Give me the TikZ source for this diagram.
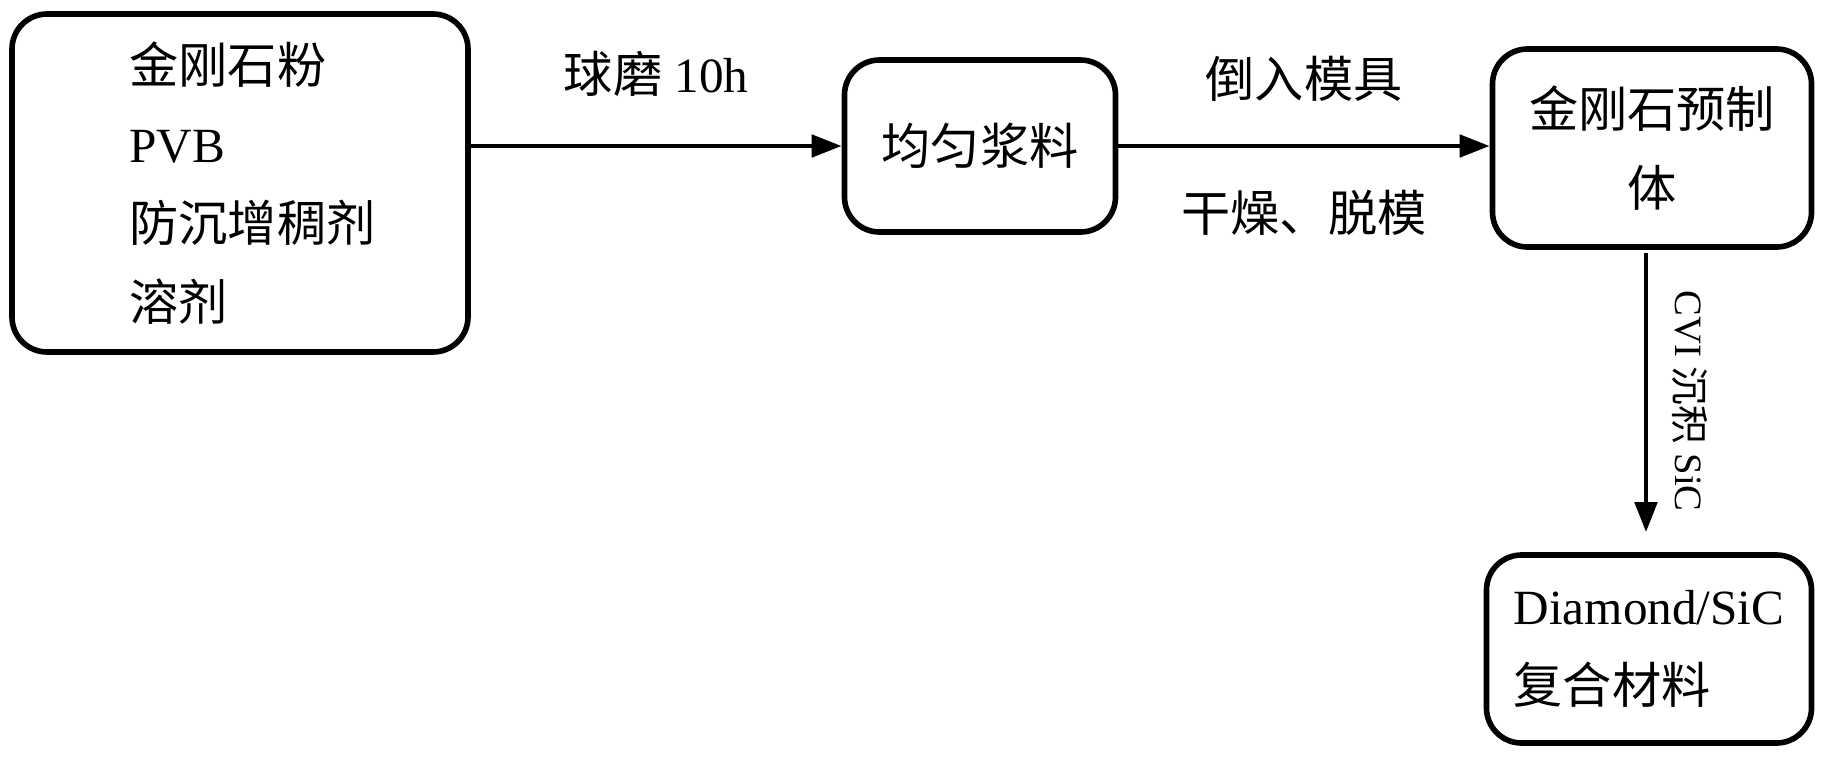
\documentclass[tikz,border=0pt]{standalone}
\usepackage{fontspec}
\setmainfont{Liberation Serif}
\newfontfamily\cjk{Noto Sans CJK SC}
\usetikzlibrary{arrows.meta}
\begin{document}
\begin{tikzpicture}[font=\fontsize{14}{22.5}\selectfont]
\useasboundingbox (0,0) rectangle (18.21,7.58);
\tikzset{box/.style={shape=rectangle, draw, line width=1.6pt, rounded corners=0.35cm},
         flow/.style={line width=1.4pt, -{Triangle[length=0.3cm,width=0.22cm]}}}

\node[box, minimum width=4.56cm, minimum height=3.38cm, align=left] (b1) at (2.40,5.75) {\hspace*{0.25cm}{\cjk 金刚石粉}\\\hspace*{0.25cm}PVB\\\hspace*{0.25cm}{\cjk 防沉增稠剂}\\\hspace*{0.25cm}{\cjk 溶剂}};
\node[box, minimum width=2.71cm, minimum height=1.72cm, align=center] (b2) at (9.80,6.12) {{\cjk 均匀浆料}};
\node[box, minimum width=3.19cm, minimum height=1.98cm, align=center] (b3) at (16.52,6.10) {{\cjk 金刚石预制}\\{\cjk 体}};
\node[box, minimum width=3.25cm, minimum height=1.88cm, align=left] (b4) at (16.49,1.09) {Diamond/SiC\\{\cjk 复合材料}};
\draw[flow] (b1.east |- b2.west) -- node[above=0.35cm] {{\cjk 球磨} 10h} (b2.west);
\draw[flow] (b2.east) -- node[above=0.3cm] {{\cjk 倒入模具}} node[below=0.3cm] {{\cjk 干燥、脱模}} (b3.west |- b2.east);
\draw[flow, shorten <=0.03cm, shorten >=0.2cm] ([xshift=-0.06cm]b3.south) -- node[midway, sloped, above=0.12cm, font=\fontsize{11}{13}\selectfont] {CVI {\cjk 沉积} SiC} ([xshift=-0.06cm]b3.south |- b4.north);
\end{tikzpicture}
\end{document}
